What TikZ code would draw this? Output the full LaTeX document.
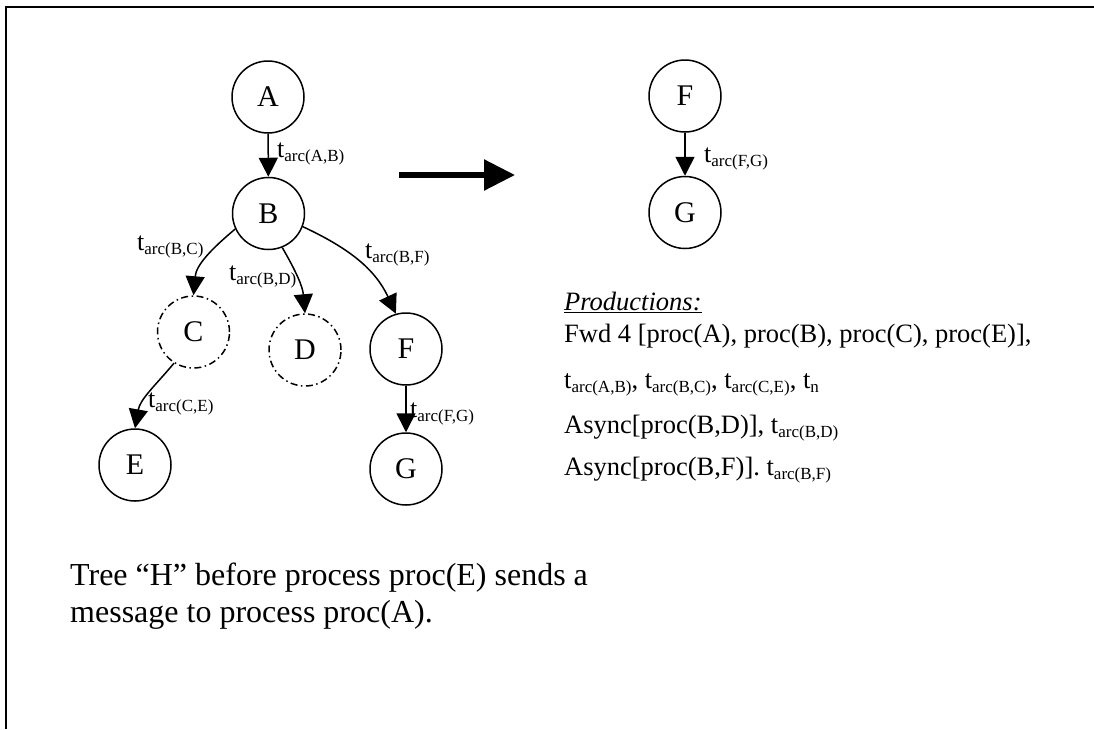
\documentclass[tikz,border=0pt]{standalone}
\usepackage{fontspec}
\setmainfont{Liberation Serif}
\usetikzlibrary{arrows.meta}
% transition symbol with a lowered, smaller subscript
\newcommand\tsub[1]{t\raisebox{-4pt}{\fontsize{17}{17}\selectfont #1}}
\begin{document}
\begin{tikzpicture}[x=1pt,y=1pt,
  vertex/.style={circle, draw, line width=1.5pt, minimum size=72pt, inner sep=0pt,
                 font=\fontsize{30}{30}\selectfont},
  ghost/.style={vertex, dash pattern=on 7pt off 3.5pt on 1.5pt off 3.5pt},
  edgearrow/.style={line width=1.5pt, -{Triangle[width=19pt,length=19pt]}},
  arclabel/.style={anchor=base west, inner sep=0pt, font=\fontsize{26}{26}\selectfont},
  prod/.style={anchor=base west, inner sep=0pt, font=\fontsize{26.5}{26.5}\selectfont},
  caption/.style={anchor=base west, inner sep=0pt, font=\fontsize{32}{37}\selectfont}]

\useasboundingbox (0,0) rectangle (1094,-729);

% page frame (top and left edges)
\draw[line width=2pt] (1094,-7) -- (5.5,-7) -- (5.5,-729);

% tree before the message
\node[vertex] (A) at (268,-97) {A};
\node[vertex] (B) at (268.5,-213.5) {B};
\node[ghost]  (C) at (193.5,-332) {C};
\node[ghost]  (D) at (305,-350) {D};
\node[vertex] (F) at (406,-349) {F};
\node[vertex] (E) at (135,-465) {E};
\node[vertex] (G) at (406,-469) {G};

\draw[edgearrow] (A) -- (B);
\draw[edgearrow] (B.205) to[out=-140,in=85] (C.north);
\draw[edgearrow] (B.-68) to[out=-60,in=95] (D.north);
\draw[edgearrow] (B.-21) to[out=-25,in=115] (F.106);
\draw[edgearrow] (C.238) to[out=-130,in=80] (E.north);
\draw[edgearrow] (F) -- (G);

\node[arclabel] (lAB) at (277,-157) {\tsub{arc(A,B)}};
\node[arclabel] (lBC) at (137,-250) {\tsub{arc(B,C)}};
\node[arclabel] (lBD) at (229,-280) {\tsub{arc(B,D)}};
\node[arclabel] (lBF) at (365,-258) {\tsub{arc(B,F)}};
\node[arclabel] (lCE) at (148,-407) {\tsub{arc(C,E)}};
\node[arclabel] (lFG) at (410,-417) {\tsub{arc(F,G)}};

% transformation arrow
\coordinate (goS) at (399,-175);
\coordinate (goE) at (515,-175);
\draw[line width=5.5pt, -{Triangle[width=30pt,length=31pt]}] (goS) -- (goE);

% remaining tree
\node[vertex] (F2) at (685,-96) {F};
\node[vertex] (G2) at (685,-212.5) {G};
\draw[edgearrow] (F2) -- (G2);
\node[arclabel] (lFG2) at (704,-162) {\tsub{arc(F,G)}};

% productions
\node[prod] (pt) at (564,-310) {\underline{\textit{Productions:}}};
\node[prod] (p1) at (564,-342) {Fwd 4 [proc(A), proc(B), proc(C), proc(E)],};
\node[prod] (p2) at (564,-388) {\tsub{arc(A,B)}, \tsub{arc(B,C)}, \tsub{arc(C,E)}, \tsub{n}};
\node[prod] (p3) at (564,-433) {Async[proc(B,D)], \tsub{arc(B,D)}};
\node[prod] (p4) at (564,-475) {Async[proc(B,F)]. \tsub{arc(B,F)}};

% caption
\node[caption] (cap1) at (70,-585) {Tree “H” before process proc(E) sends a};
\node[caption] (cap2) at (70,-622) {message to process proc(A).};
\end{tikzpicture}
\end{document}
